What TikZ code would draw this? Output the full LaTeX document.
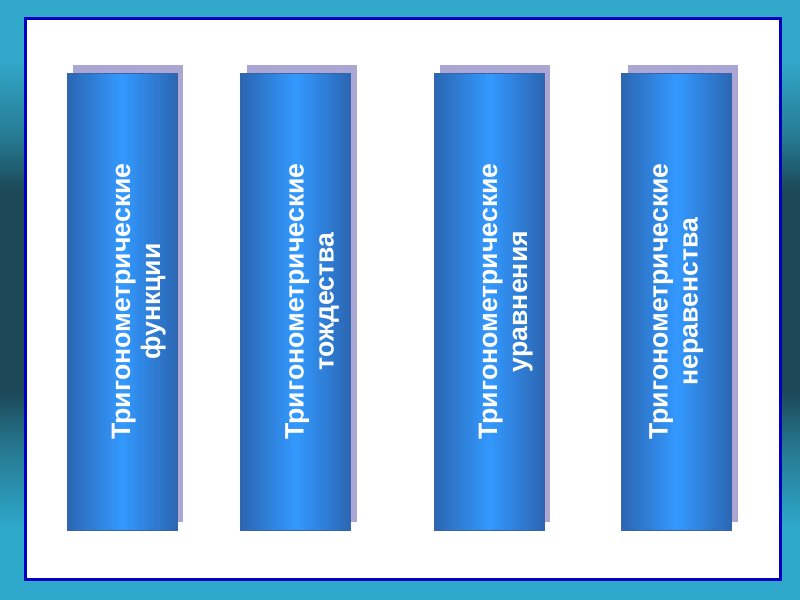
\documentclass[tikz,border=0pt]{standalone}
\usepackage{fontspec}
\usepackage{graphicx}
\newfontfamily\barfont{Liberation Sans}
\usetikzlibrary{positioning,shadows}
\definecolor{bgtop}{HTML}{32A8CA}
\definecolor{bgmid}{HTML}{267A92}
\definecolor{bgdark}{HTML}{1C4756}
\definecolor{bgbot}{HTML}{2EA8CB}
\definecolor{panelblue}{HTML}{0000C0}
\definecolor{bardark}{HTML}{2B66B2}
\definecolor{barlight}{HTML}{3399FF}
\definecolor{barline}{HTML}{3A64A8}
\definecolor{shadowlav}{HTML}{A29ED0}
\pgfdeclareverticalshading{bgband}{100bp}{color(0bp)=(bgbot); color(25bp)=(bgbot);
  color(31bp)=(bgbot); color(37.5bp)=(bgmid); color(42.5bp)=(bgdark); color(59bp)=(bgdark);
  color(63.5bp)=(bgmid); color(70bp)=(bgtop); color(75bp)=(bgtop); color(100bp)=(bgtop)}

\begin{document}
\begin{tikzpicture}[x=0.75pt,y=-0.75pt,node distance=47.25pt,
      panel/.style={draw=panelblue,fill=white,line width=2.25pt},
      bar/.style={draw=barline,line width=0.4pt,left color=bardark,right color=bardark,
        middle color=barlight,minimum width=82.5pt,minimum height=342.75pt,inner sep=0pt,
        text=white,font=\barfont\bfseries\fontsize{20}{22.5}\selectfont,
        drop shadow={shadow xshift=4.5pt,shadow yshift=6pt,fill=shadowlav,opacity=0.9,draw=none}}]
    % background and frame
    \shade[shading=bgband] (0,0) rectangle (800,600);
    \useasboundingbox (0,0) rectangle (800,600);
    \draw[panel] (25,18) rectangle (780,579);
    % four columns
    \node[bar] (b1) at (122,301.5)
      {\hspace*{25.5pt}\rotatebox{90}{\begin{tabular}{@{}c@{}}Тригонометрические\\функции\end{tabular}}};
    \node[bar,right=of b1] (b2)
      {\hspace*{25.5pt}\rotatebox{90}{\begin{tabular}{@{}c@{}}Тригонометрические\\тождества\end{tabular}}};
    \node[bar,right=62.25pt of b2] (b3)
      {\hspace*{25.5pt}\rotatebox{90}{\begin{tabular}{@{}c@{}}Тригонометрические\\уравнения\end{tabular}}};
    \node[bar,right=57.75pt of b3] (b4)
      {\rotatebox{90}{\begin{tabular}{@{}c@{}}Тригонометрические\\неравенства\end{tabular}}};
  \end{tikzpicture}
\end{document}
